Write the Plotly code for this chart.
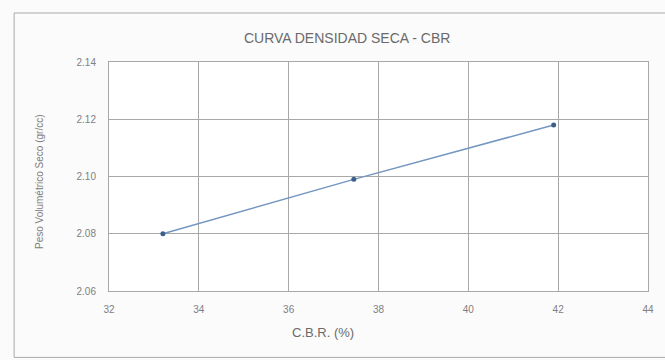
import plotly.graph_objects as go

# CBR test results: dry density vs. CBR value
cbr_pct = [33.2, 37.45, 41.9]
dry_density = [2.080, 2.099, 2.118]

x_ticks = [32, 34, 36, 38, 40, 42, 44]
y_ticks = [2.06, 2.08, 2.10, 2.12, 2.14]
y_tick_text = ["2.06", "2.08", "2.10", "2.12", "2.14"]

FONT = "Liberation Sans, Arial"
TEXT_GREY = "#6a6a6a"

fig = go.Figure()
fig.add_trace(go.Scatter(
    x=cbr_pct,
    y=dry_density,
    mode="lines+markers",
    line=dict(color="#7496c0", width=1.5),
    marker=dict(color="#3d5f8c", size=5),
    showlegend=False,
))

axis_font = dict(family=FONT, size=10, color="#808080")

fig.update_layout(
    width=665,
    height=360,
    margin=dict(l=109, r=17, t=62, b=69),
    paper_bgcolor="#fbfbfb",
    plot_bgcolor="#ffffff",
    title=dict(
        text="CURVA DENSIDAD SECA - CBR",
        x=0.522, xanchor="center",
        y=0.895, yanchor="middle",
        xref="container",
        font=dict(family=FONT, size=14, color=TEXT_GREY),
    ),
    xaxis=dict(
        range=[32, 44],
        tickvals=x_ticks,
        ticktext=[str(v) for v in x_ticks],
        showgrid=True, gridcolor="#a8a8a8", gridwidth=1,
        showline=True, linecolor="#a8a8a8", mirror=True,
        zeroline=False, ticks="",
        tickfont=axis_font,
        ticklabelstandoff=9,
    ),
    yaxis=dict(
        range=[2.06, 2.14],
        tickvals=y_ticks,
        ticktext=y_tick_text,
        showgrid=True, gridcolor="#a8a8a8", gridwidth=1,
        showline=True, linecolor="#a8a8a8", mirror=True,
        zeroline=False, ticks="",
        tickfont=axis_font,
        ticklabelstandoff=10,
    ),
    annotations=[
        dict(
            text="C.B.R. (%)", xref="paper", yref="paper",
            x=0.397, y=-0.183, xanchor="center", yanchor="middle",
            showarrow=False,
            font=dict(family=FONT, size=13, color=TEXT_GREY),
        ),
        dict(
            text="Peso Volumétrico Seco (gr/cc)", xref="paper", yref="paper",
            x=-0.128, y=0.476, xanchor="center", yanchor="middle",
            textangle=-90, showarrow=False,
            font=dict(family=FONT, size=10, color="#808080"),
        ),
    ],
    shapes=[
        dict(
            type="rect", xref="paper", yref="paper",
            x0=-0.176, x1=1.04, y0=-0.29, y1=1.214,
            line=dict(color="#aaaaaa", width=1),
            fillcolor="rgba(0,0,0,0)",
            layer="below",
        )
    ],
)

fig.write_html("out.html")
